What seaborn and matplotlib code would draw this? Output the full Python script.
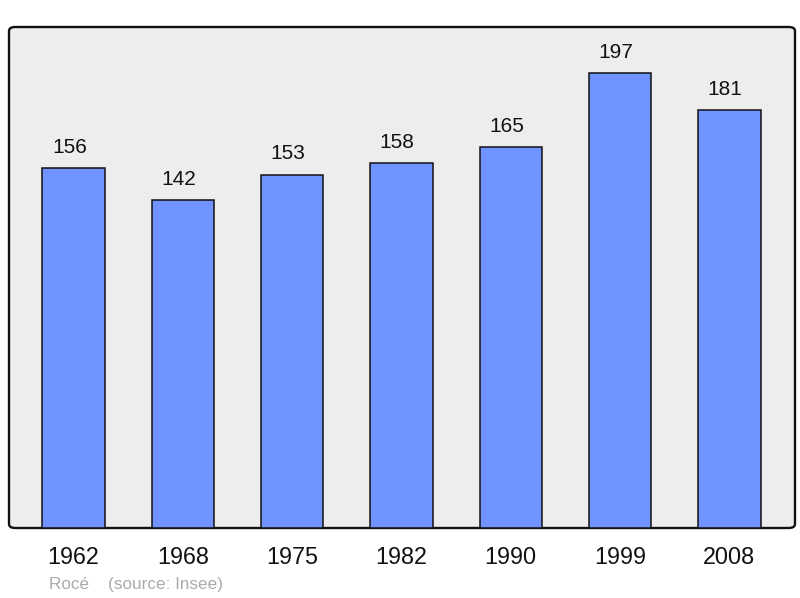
import matplotlib
matplotlib.use("Agg")
import matplotlib.pyplot as plt
import seaborn as sns
import pandas as pd
from matplotlib.patches import FancyBboxPatch

years = ["1962", "1968", "1975", "1982", "1990", "1999", "2008"]
population = [156, 142, 153, 158, 165, 197, 181]

df = pd.DataFrame({"year": years, "pop": population})

sns.set_style("white")
plt.rcParams["font.family"] = ["Liberation Sans", "DejaVu Sans"]

fig = plt.figure(figsize=(8, 5.98), dpi=100)
ax = fig.add_axes([9 / 800, 70 / 598, 786 / 800, 501 / 598])
ax.set_facecolor("none")

# background box with rounded corners
bg = FancyBboxPatch((0, 0), 1, 1, boxstyle="round,pad=0,rounding_size=0.008",
                    transform=ax.transAxes, facecolor="#ededed",
                    edgecolor="#111111", linewidth=1.7, zorder=0, clip_on=False)
ax.add_patch(bg)

sns.barplot(data=df, x="year", y="pop", color="#7094ff", width=0.57,
            edgecolor="#111111", linewidth=1.1, saturation=1, ax=ax, zorder=2)

for i, v in enumerate(population):
    ax.annotate(str(v), (i, v), xytext=(-3, 8), textcoords="offset points",
                ha="center", va="bottom", fontsize=15, color="#111111")

ax.set_xlim(-0.59, 6.6)
ax.set_ylim(0, 216.9)
ax.set_yticks([])
ax.set_xlabel("")
ax.set_ylabel("")
ax.tick_params(axis="x", length=0, labelsize=16.8, pad=13, colors="#111111")
for s in ax.spines.values():
    s.set_visible(False)

fig.text(49 / 800, 1 - 584 / 598, "Rocé    (source: Insee)", fontsize=12.3,
         color="#aaaaaa", va="center", ha="left")

fig.savefig("out.png", dpi=100)
